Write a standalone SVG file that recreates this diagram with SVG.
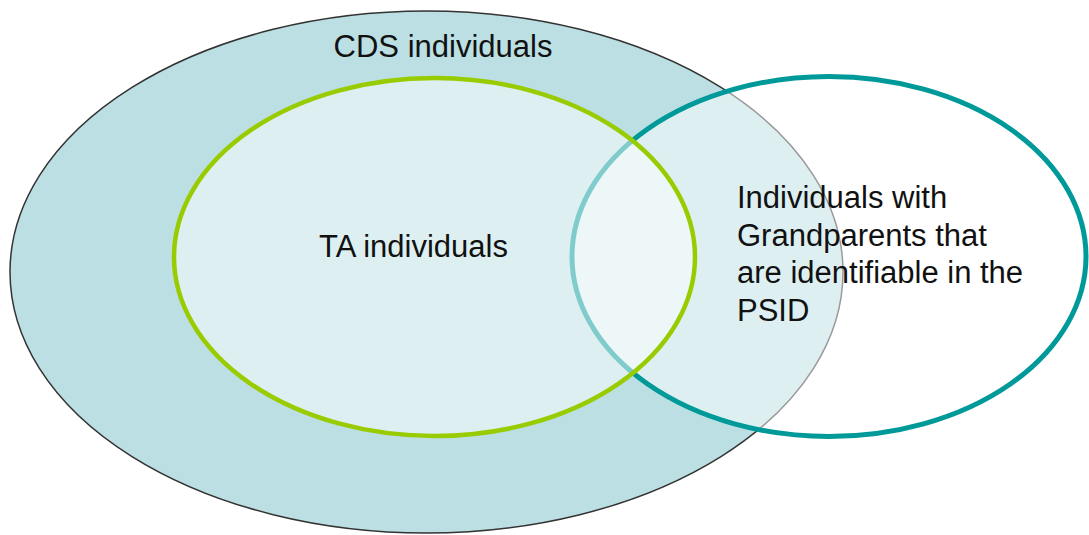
<svg xmlns="http://www.w3.org/2000/svg" width="1089" height="535" viewBox="0 0 1089 535">
<style>
text{font-family:"Liberation Sans",Arial,sans-serif;font-size:31px;fill:#111}
.cds{fill:#bbdfe3;stroke:#333;stroke-width:1.5}
.psid{fill:#fff;fill-opacity:0.5;stroke:#009999;stroke-width:5}
.ta{fill:#fff;fill-opacity:0.5;stroke:#99cc00;stroke-width:4.5}
</style>
<rect width="1089" height="535" fill="#fff"/>
<g id="cds">
<ellipse class="cds" cx="426.5" cy="272" rx="416.5" ry="261"/>
<text x="443" y="57" text-anchor="middle">CDS individuals</text>
</g>
<g id="psid">
<ellipse class="psid" cx="829" cy="256.5" rx="257" ry="180"/>
</g>
<g id="ta">
<ellipse class="ta" cx="434.5" cy="257" rx="260.5" ry="179"/>
<text x="319" y="257">TA individuals</text>
</g>
<g id="psid-label">
<text x="737" y="208">Individuals with</text>
<text x="737" y="245.5">Grandparents that</text>
<text x="737" y="283">are identifiable in the</text>
<text x="737" y="320.5">PSID</text>
</g>
<g id="connectors"></g>
</svg>
